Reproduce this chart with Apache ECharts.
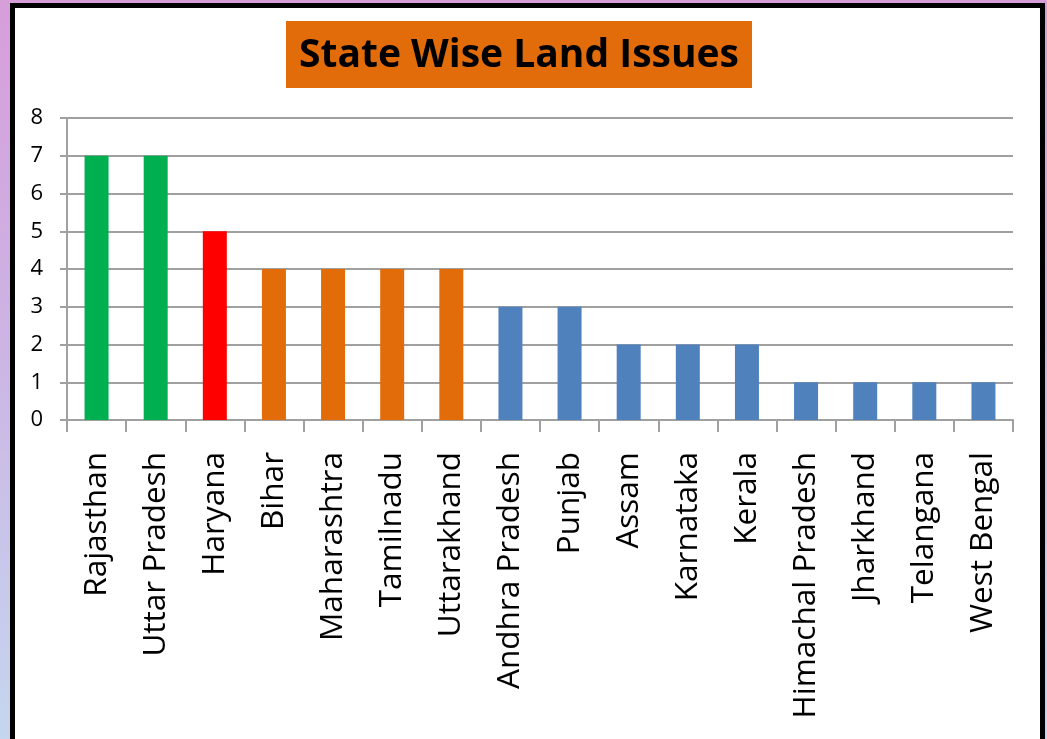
<!DOCTYPE html>
<html>
<head>
<meta charset="utf-8">
<script src="https://cdn.jsdelivr.net/npm/echarts@6/dist/echarts.min.js"></script>
<style>
  html, body { margin: 0; padding: 0; width: 1047px; height: 739px; overflow: hidden;
    background: linear-gradient(to bottom, #d79ed9 0%, #cdb3e3 45%, #c5d6f0 100%); }
  #frame { position: absolute; left: 10px; top: 3px; width: 1035px; height: 760px;
    box-sizing: border-box; border: 5px solid #000; background: #fff; }
  #chart { position: absolute; left: 0; top: 0; width: 1047px; height: 739px; }
</style>
</head>
<body>
<div id="frame"></div>
<div id="chart"></div>
<script>
const titleText = 'State Wise Land Issues';
const categories = ['Rajasthan', 'Uttar Pradesh', 'Haryana', 'Bihar', 'Maharashtra', 'Tamilnadu',
  'Uttarakhand', 'Andhra Pradesh', 'Punjab', 'Assam', 'Karnataka', 'Kerala',
  'Himachal Pradesh', 'Jharkhand', 'Telangana', 'West Bengal'];
const values = [7, 7, 5, 4, 4, 4, 4, 3, 3, 2, 2, 2, 1, 1, 1, 1];
const yTicks = [0, 1, 2, 3, 4, 5, 6, 7, 8];

function colorFor(v) {
  if (v >= 7) return '#00B050';
  if (v >= 5) return '#FF0000';
  if (v >= 4) return '#E36C0A';
  return '#4F81BD';
}

const chart = echarts.init(document.getElementById('chart'), null, { renderer: 'canvas' });
chart.setOption({
  animation: false,
  backgroundColor: 'transparent',
  title: {
    text: titleText,
    left: 286, top: 21,
    backgroundColor: '#E36C0A',
    padding: [14, 13, 12, 13],
    textStyle: { fontFamily: 'Open Sans', fontWeight: 'bold', fontSize: 39, color: '#000', lineHeight: 41 }
  },
  grid: { left: 67, right: 34, top: 118, bottom: 319, containLabel: false },
  xAxis: {
    type: 'category',
    data: categories,
    axisLine: { lineStyle: { color: '#a0a0a0', width: 2 } },
    axisTick: { show: true, length: 12, lineStyle: { color: '#a0a0a0', width: 2 } },
    axisLabel: { rotate: 90, interval: 0, margin: 32, fontFamily: 'Open Sans', fontSize: 31.5, color: '#000' }
  },
  yAxis: {
    type: 'value',
    min: yTicks[0], max: yTicks[yTicks.length - 1], interval: 1,
    axisLine: { show: true, lineStyle: { color: '#a0a0a0', width: 2 } },
    axisTick: { show: true, length: 7, lineStyle: { color: '#a0a0a0', width: 2 } },
    splitLine: { lineStyle: { color: '#a0a0a0', width: 2 } },
    axisLabel: { fontFamily: 'Open Sans', fontSize: 22, color: '#000', margin: 24 }
  },
  series: [{
    type: 'bar',
    data: values.map(v => ({ value: v, itemStyle: { color: colorFor(v) } })),
    barWidth: 24
  }]
});
</script>
</body>
</html>
